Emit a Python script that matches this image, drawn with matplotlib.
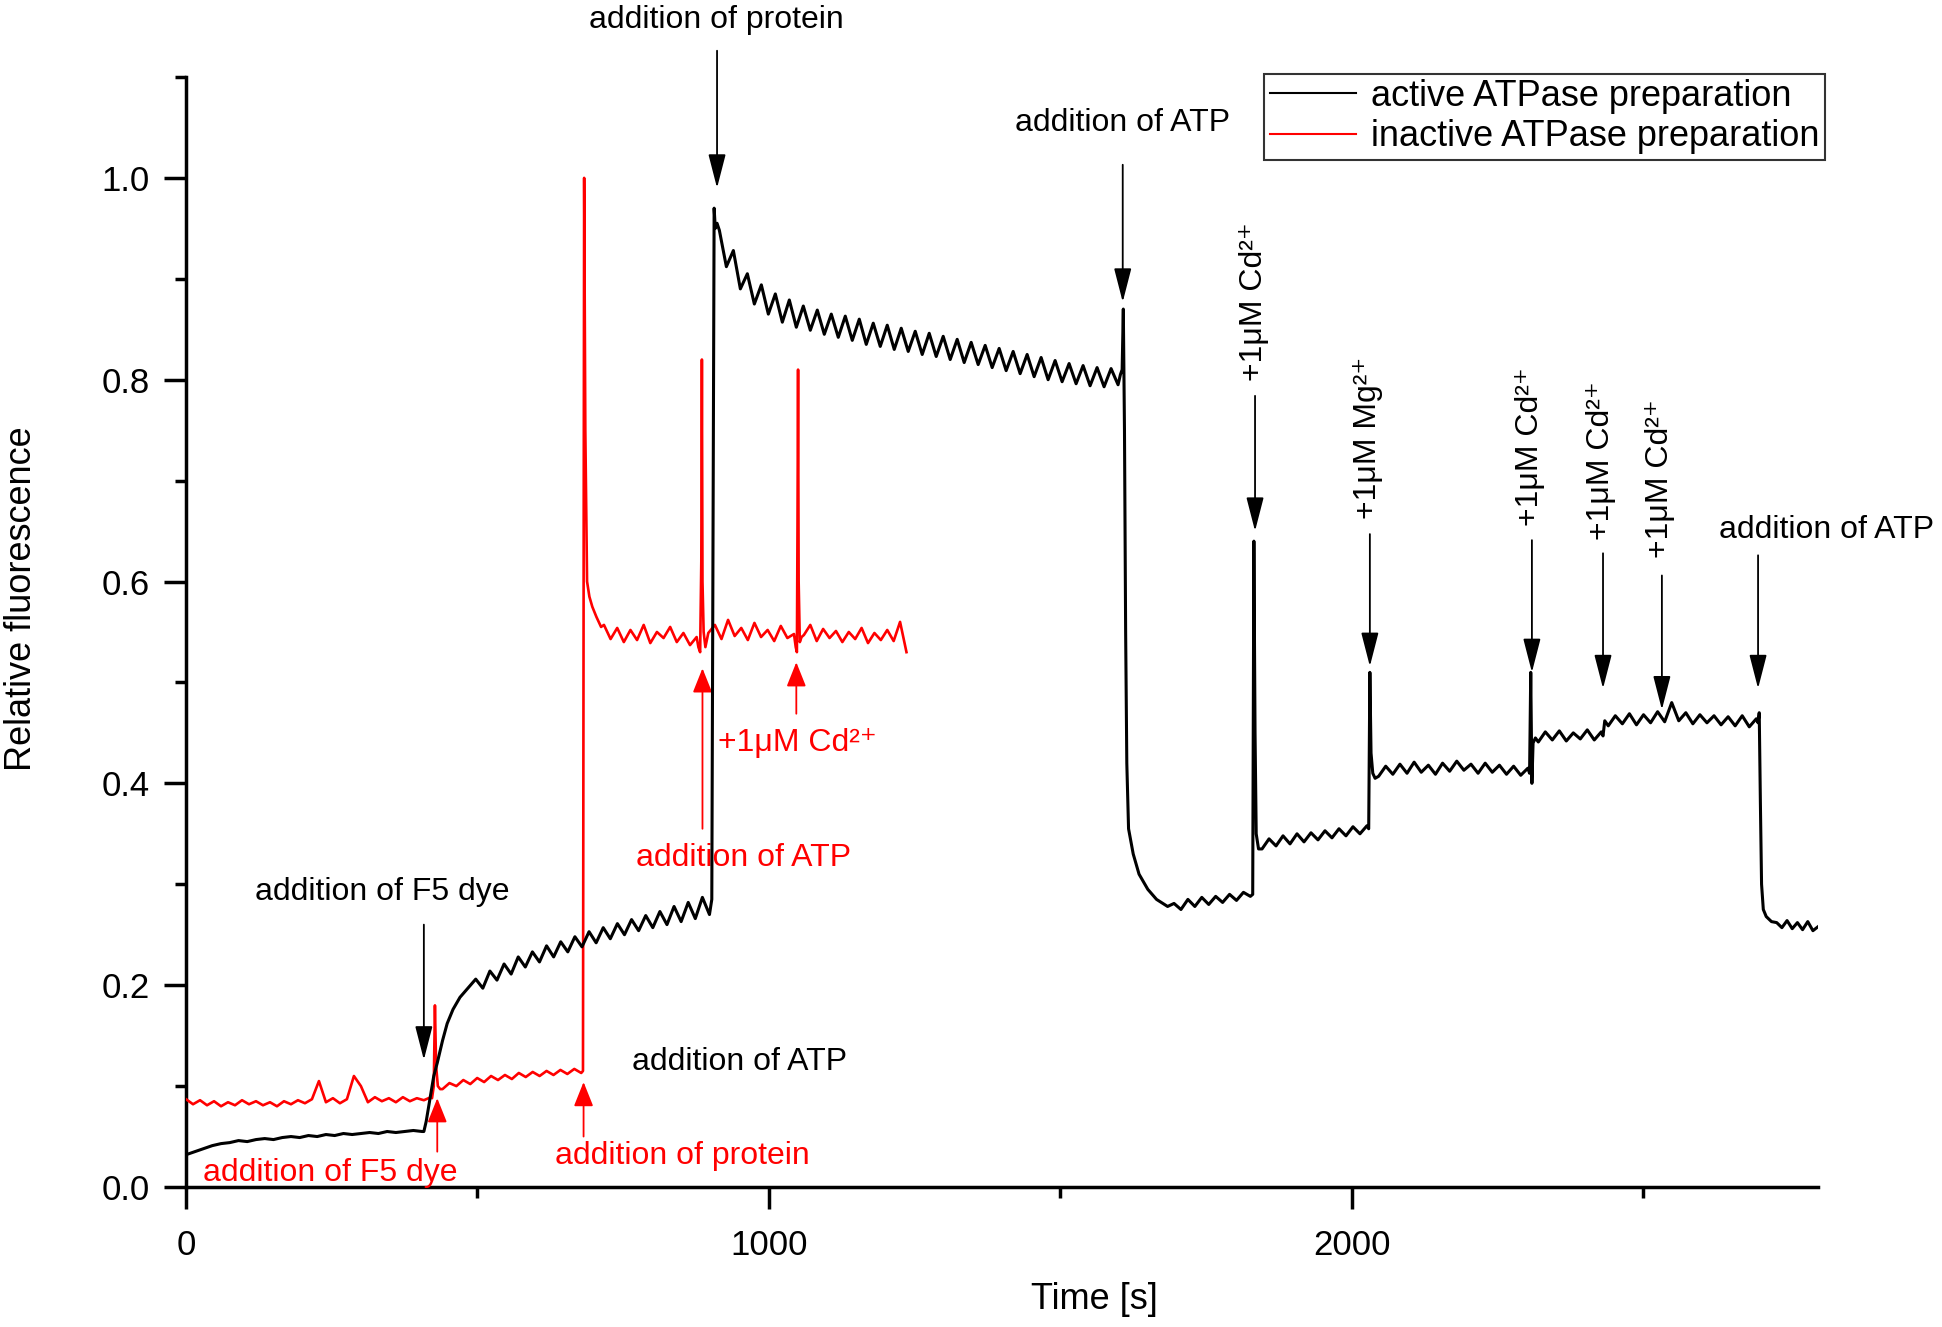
import numpy as np
import matplotlib.pyplot as plt
from matplotlib.ticker import MultipleLocator

plt.rcParams['font.family'] = ['Liberation Sans', 'DejaVu Sans']

# ---- active ATPase preparation (black trace)
act_base = [0.032, 0.035, 0.038, 0.041, 0.043, 0.044, 0.046, 0.045, 0.047, 0.048,
            0.047, 0.049, 0.050, 0.049, 0.051, 0.050, 0.052, 0.051, 0.053, 0.052,
            0.053, 0.054, 0.053, 0.055, 0.054, 0.055, 0.056, 0.055]          # 0..405 s
act_dye_t = [408, 412, 419, 425, 431, 440, 448, 458, 470, 485]
act_dye = [0.055, 0.065, 0.089, 0.11, 0.123, 0.145, 0.162, 0.176, 0.188, 0.198]
act_slow = [0.206, 0.197, 0.214, 0.205, 0.221, 0.211, 0.228, 0.218, 0.233, 0.223,
            0.239, 0.228, 0.243, 0.233, 0.248, 0.238, 0.253, 0.242, 0.257, 0.246,
            0.261, 0.250, 0.265, 0.254, 0.269, 0.257, 0.273, 0.260, 0.278, 0.263,
            0.282, 0.266, 0.287, 0.270]                                      # 497..898 s
act_prot_t = [902, 904, 906, 908, 911]
act_prot = [0.285, 0.62, 0.97, 0.95, 0.955]
act_decay = [0.948, 0.912, 0.928, 0.890, 0.905, 0.875, 0.894, 0.865, 0.885, 0.857,
             0.879, 0.852, 0.873, 0.849, 0.869, 0.845, 0.865, 0.842, 0.863, 0.839,
             0.860, 0.835, 0.856, 0.833, 0.854, 0.830, 0.851, 0.828, 0.848, 0.825,
             0.846, 0.823, 0.843, 0.820, 0.840, 0.817, 0.837, 0.815, 0.834, 0.812,
             0.831, 0.809, 0.828, 0.806, 0.825, 0.803, 0.822, 0.800, 0.819, 0.798,
             0.816, 0.796, 0.814, 0.794, 0.812, 0.793, 0.811, 0.795]         # 915..1599 s
act_atp_t = [1603, 1606, 1608, 1610, 1612, 1614, 1617, 1625, 1635, 1650, 1665, 1684]
act_atp = [0.805, 0.81, 0.87, 0.75, 0.55, 0.42, 0.355, 0.33, 0.31, 0.295, 0.285, 0.278]
act_p1 = [0.281, 0.275, 0.285, 0.278, 0.287, 0.280, 0.288, 0.282, 0.290, 0.284,
          0.292, 0.288]                                                      # 1695..1826 s
act_cd1_t = [1830, 1832, 1834, 1836, 1840]
act_cd1 = [0.29, 0.64, 0.45, 0.35, 0.335]
act_p2 = [0.335, 0.345, 0.338, 0.348, 0.340, 0.350, 0.342, 0.351, 0.344, 0.353,
          0.346, 0.355, 0.348, 0.357, 0.350, 0.358]                          # 1846..2026 s
act_mg_t = [2029, 2031, 2033, 2036, 2040]
act_mg = [0.355, 0.51, 0.43, 0.41, 0.405]
act_p3 = [0.407, 0.417, 0.409, 0.419, 0.410, 0.421, 0.411, 0.418, 0.409, 0.420,
          0.412, 0.422, 0.413, 0.419, 0.410, 0.420, 0.411, 0.418, 0.409, 0.417,
          0.408, 0.415]                                                      # 2046..2302 s
act_cd2_t = [2305, 2307, 2309, 2311, 2315]
act_cd2 = [0.41, 0.51, 0.40, 0.44, 0.445]
act_p4 = [0.441, 0.451, 0.443, 0.452, 0.442, 0.450, 0.444, 0.453, 0.443, 0.451]  # 2320..2428 s
act_cd3_t = [2431, 2434]
act_cd3 = [0.447, 0.462]
act_p5 = [0.457, 0.467, 0.459, 0.469, 0.458, 0.468, 0.460, 0.471, 0.461, 0.480,
          0.462, 0.470, 0.459, 0.468, 0.460, 0.467, 0.458, 0.466, 0.457, 0.467,
          0.456, 0.464]                                                      # 2440..2694 s
act_atp2_t = [2697, 2699, 2701, 2703, 2706, 2711, 2720]
act_atp2 = [0.46, 0.47, 0.38, 0.30, 0.275, 0.268, 0.263]
act_p6 = [0.262, 0.257, 0.264, 0.256, 0.262, 0.255, 0.263, 0.254, 0.258]  # 2729..2800 s

# ---- inactive ATPase preparation (red trace)
ina_base = [0.087, 0.082, 0.086, 0.081, 0.085, 0.080, 0.084, 0.081, 0.086, 0.082,
            0.085, 0.081, 0.084, 0.080, 0.085, 0.082, 0.086, 0.083, 0.087, 0.105,
            0.084, 0.088, 0.083, 0.087, 0.110, 0.100, 0.084, 0.089, 0.085, 0.088,
            0.084, 0.089, 0.085, 0.088, 0.086, 0.089]                        # 0..420 s
ina_dye_t = [422, 425, 427, 429, 432, 436]
ina_dye = [0.088, 0.10, 0.18, 0.12, 0.10, 0.097]
ina_slow = [0.097, 0.103, 0.100, 0.106, 0.102, 0.108, 0.104, 0.110, 0.106, 0.111,
            0.107, 0.113, 0.109, 0.114, 0.110, 0.115, 0.111, 0.116, 0.112, 0.117,
            0.113]                                                           # 440..678 s
ina_prot_t = [681, 683, 685, 688, 692, 697, 704, 712]
ina_prot = [0.115, 1.0, 0.75, 0.60, 0.585, 0.575, 0.565, 0.555]
ina_p1 = [0.557, 0.543, 0.554, 0.540, 0.552, 0.542, 0.557, 0.539, 0.550, 0.544,
          0.555, 0.540, 0.549, 0.537, 0.545]                                 # 717..876 s
ina_atp_t = [879, 882, 884, 885, 886, 888, 891]
ina_atp = [0.535, 0.53, 0.62, 0.82, 0.60, 0.55, 0.535]
ina_p2 = [0.549, 0.557, 0.543, 0.562, 0.546, 0.554, 0.542, 0.559, 0.545, 0.552,
          0.541, 0.556, 0.544, 0.548]                                        # 896..1043 s
ina_cd_t = [1046, 1048, 1049, 1050, 1051, 1053, 1056]
ina_cd = [0.535, 0.53, 0.65, 0.81, 0.60, 0.54, 0.545]
ina_p3 = [0.547, 0.557, 0.541, 0.553, 0.544, 0.551, 0.540, 0.550, 0.543, 0.554,
          0.539, 0.549, 0.542, 0.552, 0.541, 0.560, 0.530]                   # 1060..1236 s


def span(t0, t1, vals):
    return list(np.linspace(t0, t1, len(vals)))


act_t = (span(0, 405, act_base) + act_dye_t + span(497, 898, act_slow) + act_prot_t
         + span(915, 1599, act_decay) + act_atp_t + span(1695, 1826, act_p1)
         + act_cd1_t + span(1846, 2026, act_p2) + act_mg_t + span(2046, 2302, act_p3)
         + act_cd2_t + span(2320, 2428, act_p4) + act_cd3_t + span(2440, 2694, act_p5)
         + act_atp2_t + span(2729, 2800, act_p6))
act_y = (act_base + act_dye + act_slow + act_prot + act_decay + act_atp + act_p1
         + act_cd1 + act_p2 + act_mg + act_p3 + act_cd2 + act_p4 + act_cd3 + act_p5
         + act_atp2 + act_p6)

ina_t = (span(0, 420, ina_base) + ina_dye_t + span(440, 678, ina_slow) + ina_prot_t
         + span(717, 876, ina_p1) + ina_atp_t + span(896, 1043, ina_p2) + ina_cd_t
         + span(1060, 1236, ina_p3))
ina_y = (ina_base + ina_dye + ina_slow + ina_prot + ina_p1 + ina_atp + ina_p2
         + ina_cd + ina_p3)

# arrows: x, tail, tip
black_arrows = [(911, 1.126, 0.99), (1607, 1.013, 0.877), (1834, 0.784, 0.65),
                (2031, 0.647, 0.516), (2309, 0.641, 0.51), (2431, 0.628, 0.494),
                (2532, 0.606, 0.473), (2697, 0.626, 0.494), (408, 0.26, 0.126)]
red_arrows = [(431, 0.035, 0.088), (682, 0.05, 0.104), (886, 0.355, 0.514),
              (1047, 0.469, 0.52)]

cd = '+1μM Cd²⁺'
mg = '+1μM Mg²⁺'
black_labels = [(910, 1.156, 'addition of protein'), (1607, 1.054, 'addition of ATP'),
                (2815, 0.651, 'addition of ATP'), (336, 0.292, 'addition of F5 dye'),
                (950, 0.124, 'addition of ATP')]
vert_labels = [(1832, 0.799, cd), (2027, 0.662, mg), (2305, 0.655, cd),
               (2428, 0.641, cd), (2529, 0.623, cd)]
red_labels = [(247, 0.014, 'addition of F5 dye'), (851, 0.031, 'addition of protein'),
              (956, 0.326, 'addition of ATP'), (1048, 0.44, cd)]

fig = plt.figure(figsize=(19.42, 13.27), dpi=100)
ax = fig.add_axes([0.0958, 0.1055, 0.8404, 0.8365])

ax.plot(ina_t, ina_y, color='#ff0000', lw=1.9, label='inactive ATPase preparation', zorder=3)
ax.plot(act_t, act_y, color='black', lw=2.2, label='active ATPase preparation', zorder=4)

for x, tail, tip in black_arrows:
    ax.annotate('', xy=(x, tip), xytext=(x, tail), annotation_clip=False,
                arrowprops=dict(arrowstyle='-|>,head_length=1.05,head_width=0.27',
                                mutation_scale=20, color='black', lw=1.3,
                                shrinkA=0, shrinkB=0))
for x, tail, tip in red_arrows:
    ax.annotate('', xy=(x, tip), xytext=(x, tail), annotation_clip=False,
                arrowprops=dict(arrowstyle='-|>,head_length=0.75,head_width=0.3',
                                mutation_scale=20, color='#ff0000', lw=1.3,
                                shrinkA=0, shrinkB=0))

for x, y, s in black_labels:
    ax.text(x, y, s, fontsize=23, ha='center', va='center', color='black')
for x, y, s in vert_labels:
    ax.text(x, y, s, fontsize=23, ha='center', va='bottom', rotation=90, color='black')
for x, y, s in red_labels:
    ax.text(x, y, s, fontsize=23, ha='center', va='center', color='#ff0000')

ax.set_xlim(0, 2800)
ax.set_ylim(0, 1.1)
ax.spines['top'].set_visible(False)
ax.spines['right'].set_visible(False)
ax.spines['left'].set_linewidth(2.5)
ax.spines['bottom'].set_linewidth(2.5)
ax.xaxis.set_major_locator(MultipleLocator(1000))
ax.xaxis.set_minor_locator(MultipleLocator(500))
ax.yaxis.set_major_locator(MultipleLocator(0.2))
ax.yaxis.set_minor_locator(MultipleLocator(0.1))
ax.yaxis.set_major_formatter(lambda v, p: f'{v:.1f}')
ax.tick_params(which='major', direction='out', length=16, width=2.5, labelsize=25)
ax.tick_params(which='minor', direction='out', length=8, width=2.5)
ax.tick_params(axis='y', pad=10)
ax.tick_params(axis='x', pad=14)

fig.text(0.5638, 0.0204, 'Time [s]', fontsize=26, ha='center', va='center')
fig.text(0.0113, 0.549, 'Relative fluorescence', fontsize=26, ha='center', va='center',
         rotation=90)

h, l = ax.get_legend_handles_labels()
leg = ax.legend(h[::-1], l[::-1], loc='upper right', bbox_to_anchor=(1.004, 1.003),
                fontsize=26, frameon=True, fancybox=False, borderaxespad=0,
                borderpad=0.15, labelspacing=0.15, handlelength=2.4, handletextpad=0.4)
leg.get_frame().set_edgecolor('black')
leg.get_frame().set_linewidth(1.5)
for line in leg.get_lines():
    line.set_linewidth(1.5)

plt.savefig('out.png', dpi=100)
